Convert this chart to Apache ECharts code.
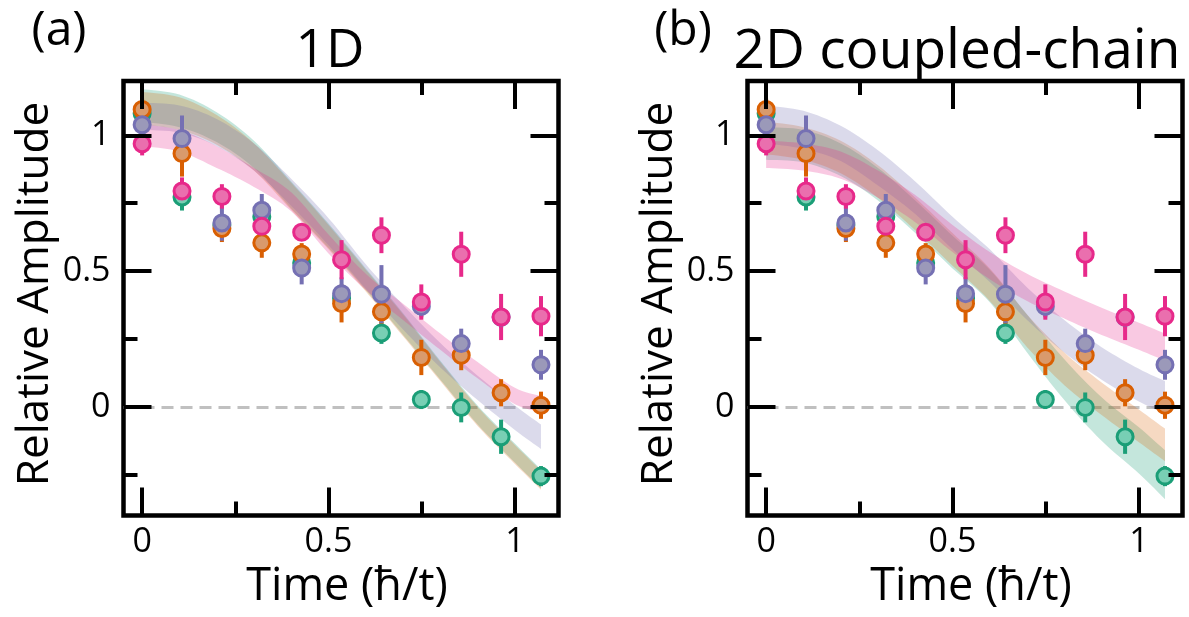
<!DOCTYPE html>
<html><head><meta charset="utf-8">
<script src="https://cdn.jsdelivr.net/npm/echarts@6/dist/echarts.min.js"></script>
<style>html,body{margin:0;padding:0;background:#fff}#c{width:1189px;height:617px}</style>
</head><body><div id="c"></div>
<script>
// ---------- data ----------
const times = [0, 0.107, 0.214, 0.321, 0.428, 0.535, 0.642, 0.749, 0.856, 0.963, 1.07];

const greenY   = [1.08, 0.773, 0.67, 0.70, 0.53, 0.40, 0.272, 0.027, -0.002, -0.11, -0.255];
const greenErr = [0.04, 0.05, 0.04, 0.04, 0.04, 0.04, 0.04, 0.035, 0.055, 0.063, 0.037];
const orangeY   = [1.095, 0.933, 0.657, 0.604, 0.563, 0.381, 0.35, 0.182, 0.19, 0.052, 0.006];
const orangeErr = [0.04, 0.085, 0.05, 0.055, 0.04, 0.07, 0.05, 0.065, 0.055, 0.05, 0.05];
const purpleY   = [1.039, 0.988, 0.677, 0.724, 0.511, 0.417, 0.415, 0.37, 0.233, 0.33, 0.155];
const purpleErr = [0.04, 0.085, 0.065, 0.06, 0.06, 0.06, 0.107, 0.04, 0.055, 0.04, 0.055];
const pinkY   = [0.969, 0.795, 0.775, 0.665, 0.643, 0.542, 0.632, 0.386, 0.562, 0.331, 0.334];
const pinkErr = [0.043, 0.05, 0.045, 0.06, 0.03, 0.072, 0.066, 0.065, 0.083, 0.085, 0.074];

// theory bands: centre and half-width at bandX
const bandX = [0, 0.1, 0.2, 0.3, 0.4, 0.5, 0.6, 0.7, 0.8, 0.9, 1.0, 1.07];
// panel (a) 1D
const aGreenMid  = [1.11, 1.09, 1.03, 0.93, 0.78, 0.63, 0.47, 0.305, 0.135, -0.03, -0.17, -0.265];
const aGreenHalf = [0.06, 0.06, 0.055, 0.05, 0.05, 0.045, 0.04, 0.04, 0.035, 0.035, 0.035, 0.035];
const aOrangeMid  = [1.10, 1.08, 1.02, 0.92, 0.775, 0.625, 0.465, 0.30, 0.13, -0.035, -0.175, -0.27];
const aOrangeHalf = [0.06, 0.06, 0.055, 0.05, 0.05, 0.045, 0.04, 0.04, 0.035, 0.035, 0.035, 0.035];
const aPurpleMid  = [1.07, 1.06, 1.01, 0.92, 0.79, 0.645, 0.48, 0.33, 0.19, 0.07, -0.04, -0.11];
const aPurpleHalf = [0.05, 0.05, 0.05, 0.05, 0.05, 0.05, 0.045, 0.045, 0.045, 0.045, 0.045, 0.045];
const aPinkMid  = [1.0, 0.98, 0.92, 0.845, 0.755, 0.60, 0.46, 0.35, 0.24, 0.135, 0.04, 0.01];
const aPinkHalf = [0.04, 0.04, 0.04, 0.035, 0.035, 0.035, 0.03, 0.03, 0.03, 0.03, 0.03, 0.03];
// panel (b) 2D coupled-chain
const bGreenMid  = [0.97, 0.96, 0.91, 0.82, 0.70, 0.57, 0.445, 0.27, 0.10, -0.045, -0.16, -0.25];
const bGreenHalf = [0.06, 0.06, 0.06, 0.06, 0.06, 0.06, 0.06, 0.07, 0.075, 0.08, 0.085, 0.09];
const bOrangeMid  = [0.99, 0.97, 0.92, 0.83, 0.71, 0.58, 0.45, 0.28, 0.14, 0.03, -0.07, -0.14];
const bOrangeHalf = [0.06, 0.06, 0.06, 0.06, 0.06, 0.06, 0.06, 0.06, 0.06, 0.06, 0.06, 0.06];
const bPurpleMid  = [1.04, 1.02, 0.97, 0.88, 0.77, 0.64, 0.52, 0.38, 0.26, 0.16, 0.08, 0.035];
const bPurpleHalf = [0.07, 0.07, 0.065, 0.065, 0.06, 0.06, 0.06, 0.06, 0.06, 0.06, 0.06, 0.06];
const bPinkMid  = [0.93, 0.92, 0.89, 0.82, 0.73, 0.62, 0.52, 0.44, 0.375, 0.315, 0.26, 0.22];
const bPinkHalf = [0.05, 0.05, 0.05, 0.05, 0.05, 0.05, 0.05, 0.05, 0.05, 0.05, 0.05, 0.05];

const xMajor = [0, 0.5, 1];
const xMinor = [0.25, 0.75];
const yMajor = [0, 0.5, 1];
const yMinor = [-0.25, 0.25, 0.75];

const panelTitles = ['1D', '2D coupled-chain'];
const panelTags = ['(a)', '(b)'];
const xName = 'Time (ħ/t)';
const yName = 'Relative Amplitude';

// ---------- style ----------
const FONT = "'Open Sans', 'Noto Sans', sans-serif";
const X_MIN = -0.05, X_MAX = 1.117, Y_MIN = -0.4, Y_MAX = 1.2;
const COL = {
  green:  {stroke: '#1b9e77', fill: '#78cfb4', band: 'rgba(27,158,119,0.26)'},
  orange: {stroke: '#d95f02', fill: '#d99a6c', band: 'rgba(217,95,2,0.24)'},
  purple: {stroke: '#7570b3', fill: '#9b99b9', band: 'rgba(117,112,179,0.26)'},
  pink:   {stroke: '#e7298a', fill: '#ea6fae', band: 'rgba(231,41,138,0.25)'}
};
const panelLeft = [123.5, 747.5];
const GRID_TOP = 81, GRID_W = 435, GRID_H = 434.5;

const grids = [], xAxes = [], yAxes = [], series = [], graphics = [];

function axis(kind, gi, position, values, len, labels) {
  return {
    type: 'value', gridIndex: gi, position: position,
    min: kind === 'x' ? X_MIN : Y_MIN, max: kind === 'x' ? X_MAX : Y_MAX,
    z: 10,
    axisLine: {show: false, onZero: false}, splitLine: {show: false},
    axisTick: {show: true, inside: true, length: len, customValues: values,
               lineStyle: {color: '#000', width: 4}},
    axisLabel: {show: labels, customValues: values, margin: kind === 'x' ? 10 : 13,
                fontSize: 34, fontFamily: FONT, color: '#000'}
  };
}

// smooth a pixel polyline (Catmull-Rom rendered as sampled cubic segments)
function smoothPts(P) {
  const out = [P[0]];
  const n = P.length;
  for (let i = 0; i < n - 1; i++) {
    const p0 = P[Math.max(i - 1, 0)], p1 = P[i], p2 = P[i + 1], p3 = P[Math.min(i + 2, n - 1)];
    const c1 = [p1[0] + (p2[0] - p0[0]) / 6, p1[1] + (p2[1] - p0[1]) / 6];
    const c2 = [p2[0] - (p3[0] - p1[0]) / 6, p2[1] - (p3[1] - p1[1]) / 6];
    for (let s = 1; s <= 8; s++) {
      const t = s / 8, u = 1 - t;
      out.push([
        u*u*u*p1[0] + 3*u*u*t*c1[0] + 3*u*t*t*c2[0] + t*t*t*p2[0],
        u*u*u*p1[1] + 3*u*u*t*c1[1] + 3*u*t*t*c2[1] + t*t*t*p2[1]
      ]);
    }
  }
  return out;
}

function band(xi, yi, mid, half, color) {
  return {
    type: 'custom', xAxisIndex: xi, yAxisIndex: yi, data: [[0, 0]], silent: true, z: 1,
    renderItem: (params, api) => {
      const up = bandX.map((x, i) => api.coord([x, mid[i] + half[i]]));
      const lo = bandX.map((x, i) => api.coord([x, mid[i] - half[i]]));
      const pts = smoothPts(up).concat(smoothPts(lo.reverse()));
      return {type: 'polygon', shape: {points: pts}, style: {fill: color}};
    }
  };
}

function points(xi, yi, ys, errs, c, zeroLine) {
  const d = times.map((t, i) => [t, ys[i], errs[i]]);
  const sc = {type: 'scatter', xAxisIndex: xi, yAxisIndex: yi, data: d.map(p => [p[0], p[1]]),
     symbol: 'circle', symbolSize: 16, silent: true, z: 3,
     itemStyle: {color: c.fill, borderColor: c.stroke, borderWidth: 3, opacity: 1}};
  if (zeroLine) {
    sc.markLine = {silent: true, symbol: 'none', label: {show: false}, z: 1,
      lineStyle: {type: [12, 7], color: '#c0c0c0', width: 3}, data: [{yAxis: 0}]};
  }
  return [
    {type: 'custom', xAxisIndex: xi, yAxisIndex: yi, data: d, silent: true, z: 3,
     renderItem: (params, api) => {
       const x = api.value(0), y = api.value(1), e = api.value(2);
       const p1 = api.coord([x, y - e]), p2 = api.coord([x, y + e]);
       return {type: 'line', shape: {x1: p1[0], y1: p1[1], x2: p2[0], y2: p2[1]},
               style: {stroke: c.stroke, lineWidth: 4}};
     }},
    sc
  ];
}

const bands = [
  [aGreenMid, aGreenHalf, aOrangeMid, aOrangeHalf, aPurpleMid, aPurpleHalf, aPinkMid, aPinkHalf],
  [bGreenMid, bGreenHalf, bOrangeMid, bOrangeHalf, bPurpleMid, bPurpleHalf, bPinkMid, bPinkHalf]
];

for (let p = 0; p < 2; p++) {
  const L = panelLeft[p];
  const gMaj = grids.length;
  grids.push({left: L, top: GRID_TOP, width: GRID_W, height: GRID_H, show: true,
              borderColor: '#000', borderWidth: 4.5, backgroundColor: 'transparent', z: 0});
  grids.push({left: L, top: GRID_TOP, width: GRID_W, height: GRID_H, show: false});
  const xi = xAxes.length, yi = yAxes.length;
  xAxes.push(axis('x', gMaj, 'bottom', xMajor, 28, true));
  xAxes.push(axis('x', gMaj, 'top', xMajor, 28, false));
  xAxes.push(axis('x', gMaj + 1, 'bottom', xMinor, 14, false));
  xAxes.push(axis('x', gMaj + 1, 'top', xMinor, 14, false));
  yAxes.push(axis('y', gMaj, 'left', yMajor, 28, true));
  yAxes.push(axis('y', gMaj, 'right', yMajor, 28, false));
  yAxes.push(axis('y', gMaj + 1, 'left', yMinor, 14, false));
  yAxes.push(axis('y', gMaj + 1, 'right', yMinor, 14, false));

  const B = bands[p];
  const cols = [COL.green, COL.orange, COL.purple, COL.pink];
  for (let k = 0; k < 4; k++) {
    series.push(band(xi, yi, B[2 * k], B[2 * k + 1], cols[k].band));
  }
  series.push(...points(xi, yi, greenY, greenErr, COL.green, true));
  series.push(...points(xi, yi, orangeY, orangeErr, COL.orange));
  series.push(...points(xi, yi, purpleY, purpleErr, COL.purple));
  series.push(...points(xi, yi, pinkY, pinkErr, COL.pink));

  const off = p * 624;
  graphics.push({type: 'text', x: 59 + off, y: 31, style: {text: panelTags[p], font: '48px ' + FONT,
                 fill: '#000', textAlign: 'center', textVerticalAlign: 'middle'}});
  graphics.push({type: 'text', x: p === 0 ? 330 : 957, y: 52, style: {text: panelTitles[p], font: (p === 0 ? 53 : 55) + 'px ' + FONT,
                 fill: '#000', textAlign: 'center', textVerticalAlign: 'middle'}});
  graphics.push({type: 'text', x: 347 + off, y: 587, style: {text: xName, font: '45px ' + FONT,
                 fill: '#000', textAlign: 'center', textVerticalAlign: 'middle'}});
  graphics.push({type: 'text', x: 35 + off, y: 294, rotation: Math.PI / 2,
                 style: {text: yName, font: '44px ' + FONT,
                 fill: '#000', textAlign: 'center', textVerticalAlign: 'middle'}});
}

const chart = echarts.init(document.getElementById('c'), null, {renderer: 'canvas'});
chart.setOption({
  animation: false,
  backgroundColor: '#fff',
  grid: grids, xAxis: xAxes, yAxis: yAxes, series: series, graphic: graphics
});
</script></body></html>
